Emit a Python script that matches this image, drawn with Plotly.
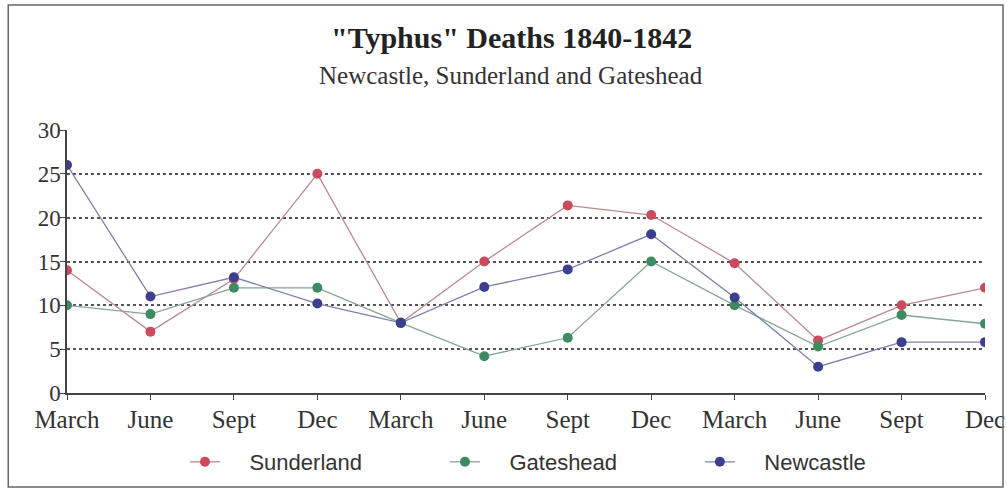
import plotly.graph_objects as go

quarters = ["March", "June", "Sept", "Dec", "March", "June", "Sept", "Dec",
            "March", "June", "Sept", "Dec"]
sunderland = [14, 7, 13, 25, 8, 15, 21.4, 20.3, 14.8, 6, 10, 12]
gateshead = [10, 9, 12, 12, 8, 4.2, 6.3, 15, 10, 5.3, 8.9, 7.9]
newcastle = [26, 11, 13.2, 10.2, 8, 12.1, 14.1, 18.1, 10.9, 3, 5.8, 5.8]

series = [
    ("Sunderland", sunderland, "#cc4a5e", "#b98a90", "legend", 0.1837),
    ("Gateshead", gateshead, "#3e8a62", "#86a594", "legend2", 0.4419),
    ("Newcastle", newcastle, "#3c3f8e", "#7d80a8", "legend3", 0.695),
]

xs = list(range(len(quarters)))
fig = go.Figure()
legend_font = dict(family="Liberation Sans, Arial, sans-serif", size=22, color="#333")
legends = {}
for name, vals, mcol, lcol, leg, lx in series:
    fig.add_trace(go.Scatter(
        x=xs, y=vals, mode="lines+markers",
        name="\u00a0\u00a0\u00a0\u00a0" + name, legend=leg,
        line=dict(color=lcol, width=1.3),
        marker=dict(color=mcol, size=10),
    ))
    legends[leg] = dict(xref="container", yref="container", x=lx, xanchor="left",
                        y=0.059, yanchor="middle", font=legend_font,
                        bgcolor="rgba(0,0,0,0)", itemwidth=30)

serif = "Liberation Serif, Times New Roman, serif"
fig.update_layout(
    width=1007, height=491,
    margin=dict(l=67, r=22, t=130, b=98, autoexpand=False),
    paper_bgcolor="white", plot_bgcolor="white",
    showlegend=True,
    xaxis=dict(
        tickmode="array", tickvals=xs, ticktext=quarters,
        range=[0, 11], showgrid=False, zeroline=False,
        showline=True, linecolor="#444", linewidth=1.5,
        ticks="outside", ticklen=5, tickcolor="#444",
        tickfont=dict(family=serif, size=25, color="#333"),
        ticklabelstandoff=-2,
        automargin=False,
    ),
    yaxis=dict(
        range=[0, 30], dtick=5, tick0=0,
        showgrid=True, gridcolor="#555", griddash="dot", gridwidth=1.5,
        zeroline=False, showline=True, linecolor="#444", linewidth=1.5,
        ticks="outside", ticklen=5, tickcolor="#444",
        tickfont=dict(family=serif, size=23, color="#333"),
        ticklabelstandoff=-5,
        automargin=False,
    ),
    annotations=[
        dict(text="<b>\"Typhus\" Deaths 1840-1842</b>", xref="paper", yref="paper",
             x=0.484, y=1.35, xanchor="center", yanchor="middle", showarrow=False,
             font=dict(family=serif, size=30, color="#222")),
        dict(text="Newcastle, Sunderland and Gateshead", xref="paper", yref="paper",
             x=0.484, y=1.209, xanchor="center", yanchor="middle", showarrow=False,
             font=dict(family=serif, size=25, color="#333")),
    ],
    shapes=[
        dict(type="rect", xref="paper", yref="paper",
             x0=-0.064, x1=1.0196, y0=-0.357, y1=1.475,
             line=dict(color="#666", width=1.5), fillcolor="rgba(0,0,0,0)"),
    ],
    **legends,
)

fig.write_html(
    "out.html",
    config={"displayModeBar": False},
    post_script="document.body.style.margin='0';document.body.style.overflow='hidden';",
)
